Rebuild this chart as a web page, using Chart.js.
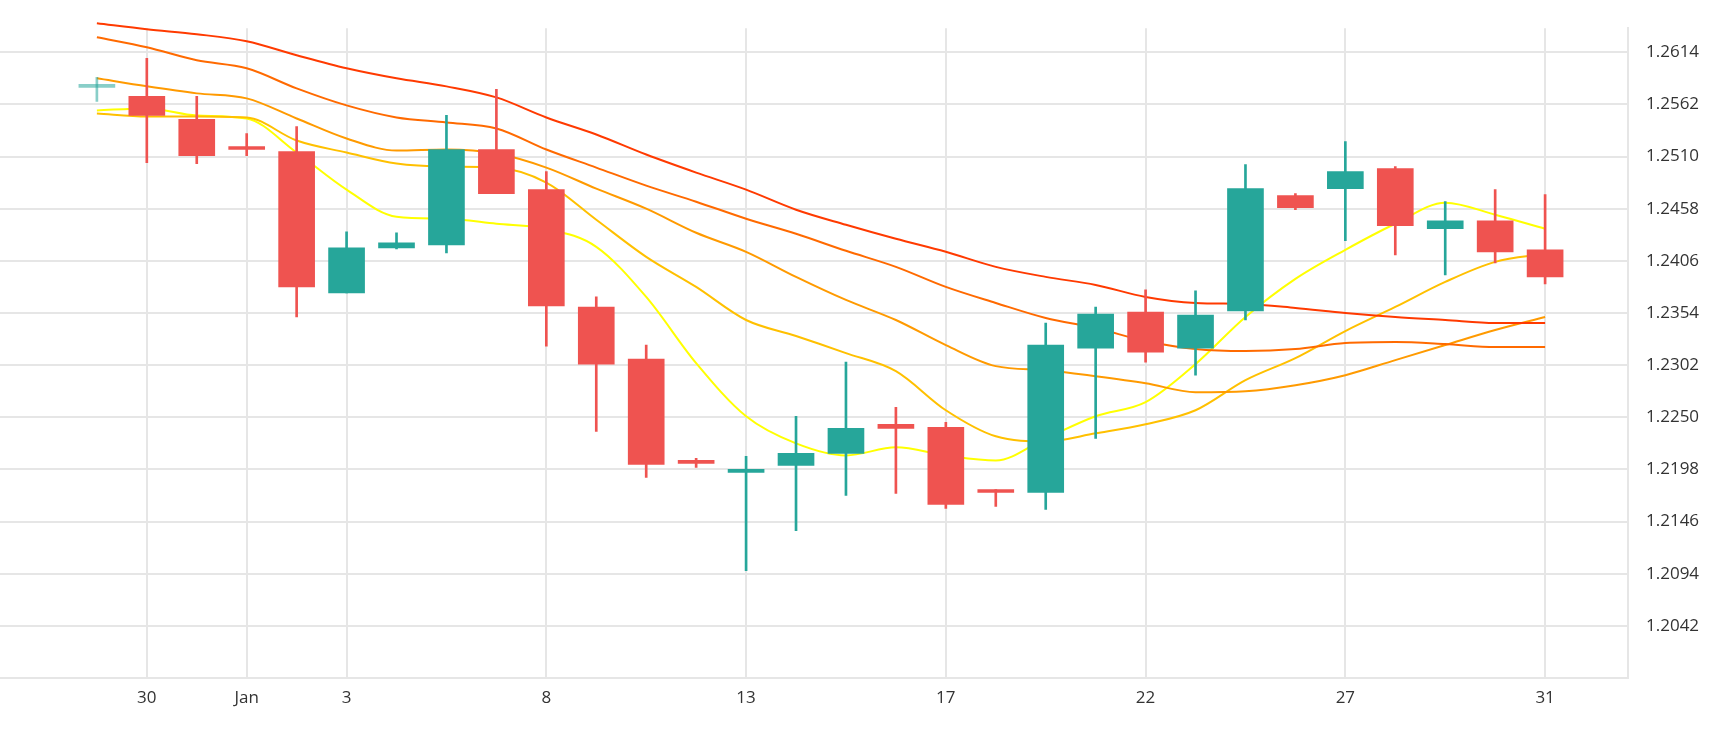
<!DOCTYPE html>
<html><head><meta charset="utf-8">
<script src="https://cdn.jsdelivr.net/npm/chart.js@4"></script>
<style>html,body{margin:0;padding:0;background:#fff}#w{width:1730px;height:730px}</style>
</head><body><div id="w"><canvas id="c"></canvas></div>
<script>
const xLabels = {1:'30',3:'Jan',5:'3',9:'8',13:'13',17:'17',21:'22',25:'27',29:'31'};
const yTicks = [1.2042,1.2094,1.2146,1.2198,1.2250,1.2302,1.2354,1.2406,1.2458,1.2510,1.2562,1.2614];
const opens  = [1.2579,1.2570,1.2547,1.2519,1.2515,1.2374,1.2419,1.2422,1.2517,1.2477,1.2360,1.2308,1.2206,1.2195,1.2202,1.2214,1.2243,1.2240,1.2177,1.2175,1.2319,1.2355,1.2319,1.2356,1.2471,1.2478,1.2498,1.2438,1.2446,1.2417];
const closes = [1.2579,1.2551,1.2511,1.2517,1.2380,1.2419,1.2424,1.2517,1.2473,1.2361,1.2303,1.2203,1.2204,1.2197,1.2214,1.2239,1.2239,1.2163,1.2175,1.2322,1.2353,1.2315,1.2352,1.2478,1.2459,1.2495,1.2441,1.2446,1.2415,1.2390];
const highs  = [1.2589,1.2608,1.2570,1.2533,1.2540,1.2435,1.2434,1.2551,1.2577,1.2495,1.2370,1.2322,1.2209,1.2211,1.2251,1.2305,1.2260,1.2245,1.2178,1.2344,1.2360,1.2377,1.2376,1.2502,1.2473,1.2525,1.2500,1.2465,1.2477,1.2472];
const lows   = [1.2565,1.2504,1.2503,1.2511,1.2350,1.2374,1.2418,1.2414,1.2473,1.2321,1.2236,1.2190,1.2200,1.2097,1.2137,1.2172,1.2174,1.2159,1.2161,1.2158,1.2229,1.2305,1.2292,1.2347,1.2457,1.2426,1.2412,1.2392,1.2404,1.2383];
const maRed    = [1.2643,1.2637,1.2632,1.2625,1.2611,1.2598,1.2588,1.2580,1.2569,1.2549,1.2532,1.2512,1.2494,1.2477,1.2457,1.2442,1.2428,1.2415,1.2400,1.2390,1.2382,1.2370,1.2364,1.2363,1.2359,1.2354,1.2350,1.2347,1.2344,1.2344];
const maDark   = [1.2629,1.2619,1.2606,1.2598,1.2578,1.2561,1.2549,1.2544,1.2538,1.2517,1.2499,1.2481,1.2465,1.2448,1.2433,1.2416,1.2400,1.2380,1.2364,1.2349,1.2339,1.2326,1.2318,1.2316,1.2318,1.2324,1.2325,1.2323,1.2320,1.2320];
const maOrange = [1.2588,1.2580,1.2573,1.2568,1.2548,1.2528,1.2516,1.2517,1.2513,1.2499,1.2478,1.2458,1.2434,1.2415,1.2390,1.2367,1.2347,1.2322,1.2301,1.2297,1.2291,1.2284,1.2275,1.2276,1.2282,1.2292,1.2307,1.2322,1.2337,1.2350];
const maGold   = [1.2553,1.2550,1.2550,1.2549,1.2526,1.2514,1.2503,1.2500,1.2499,1.2484,1.2447,1.2410,1.2380,1.2347,1.2331,1.2314,1.2296,1.2257,1.2231,1.2226,1.2234,1.2243,1.2257,1.2287,1.2309,1.2336,1.2360,1.2385,1.2405,1.2413];
const maYellow = [1.2556,1.2558,1.2551,1.2548,1.2514,1.2477,1.2450,1.2448,1.2443,1.2438,1.2420,1.2370,1.2304,1.2251,1.2224,1.2212,1.2220,1.2212,1.2207,1.2229,1.2251,1.2265,1.2303,1.2350,1.2388,1.2417,1.2443,1.2464,1.2452,1.2438];

const UP='#26a69a', DN='#ef5350';
const col = opens.map((o,i)=> i===0 ? 'rgba(38,166,154,0.55)' : (closes[i]>=o?UP:DN));
const wick = highs.map((h,i)=>({x:i,y:[lows[i],h]}));
const body = opens.map((o,i)=>({x:i,y:[Math.min(o,closes[i]),Math.max(o,closes[i])]}));
const line=(d,c)=>({type:'line',data:d.map((v,i)=>({x:i,y:v})),borderColor:c,borderWidth:2,pointRadius:0,cubicInterpolationMode:'monotone',fill:false,order:2,clip:false});

new Chart(document.getElementById('c'),{
  data:{datasets:[
    line(maRed,'#ff3a00'),line(maDark,'#ff6a00'),line(maOrange,'#ff9a00'),line(maGold,'#ffc000'),line(maYellow,'#ffff00'),
    {type:'bar',data:wick,backgroundColor:col,barThickness:2,grouped:false,order:1,borderWidth:0,minBarLength:1},
    {type:'bar',data:body,backgroundColor:col,barThickness:36,grouped:false,order:0,borderWidth:0,minBarLength:3}
  ]},
  options:{responsive:true,maintainAspectRatio:false,animation:false,
    layout:{padding:0},
    plugins:{legend:{display:false},tooltip:{enabled:false}},
    scales:{
      x:{type:'linear',min:-1.94,max:30.66,offset:false,
        afterBuildTicks:s=>{s.ticks=Object.keys(xLabels).map(k=>({value:+k}));},
        afterFit:s=>{s.height=52;},
        ticks:{callback:v=>xLabels[v]||'',color:'#333',font:{family:'Open Sans',size:17},padding:10,autoSkip:false,maxRotation:0},
        grid:{color:'#e6e6e6',lineWidth:2,drawTicks:false,offset:false},border:{color:'#e6e6e6',width:2}},
      y:{position:'right',min:1.1990,max:1.2638,
        afterBuildTicks:s=>{s.ticks=yTicks.map(v=>({value:v}));},
        afterFit:s=>{s.width=102;},
        ticks:{callback:v=>v.toFixed(4),color:'#333',font:{family:'Open Sans',size:17},padding:18},
        grid:{color:'#e6e6e6',lineWidth:2,drawTicks:false},border:{color:'#e6e6e6',width:2}}
    }}
});
</script></body></html>
